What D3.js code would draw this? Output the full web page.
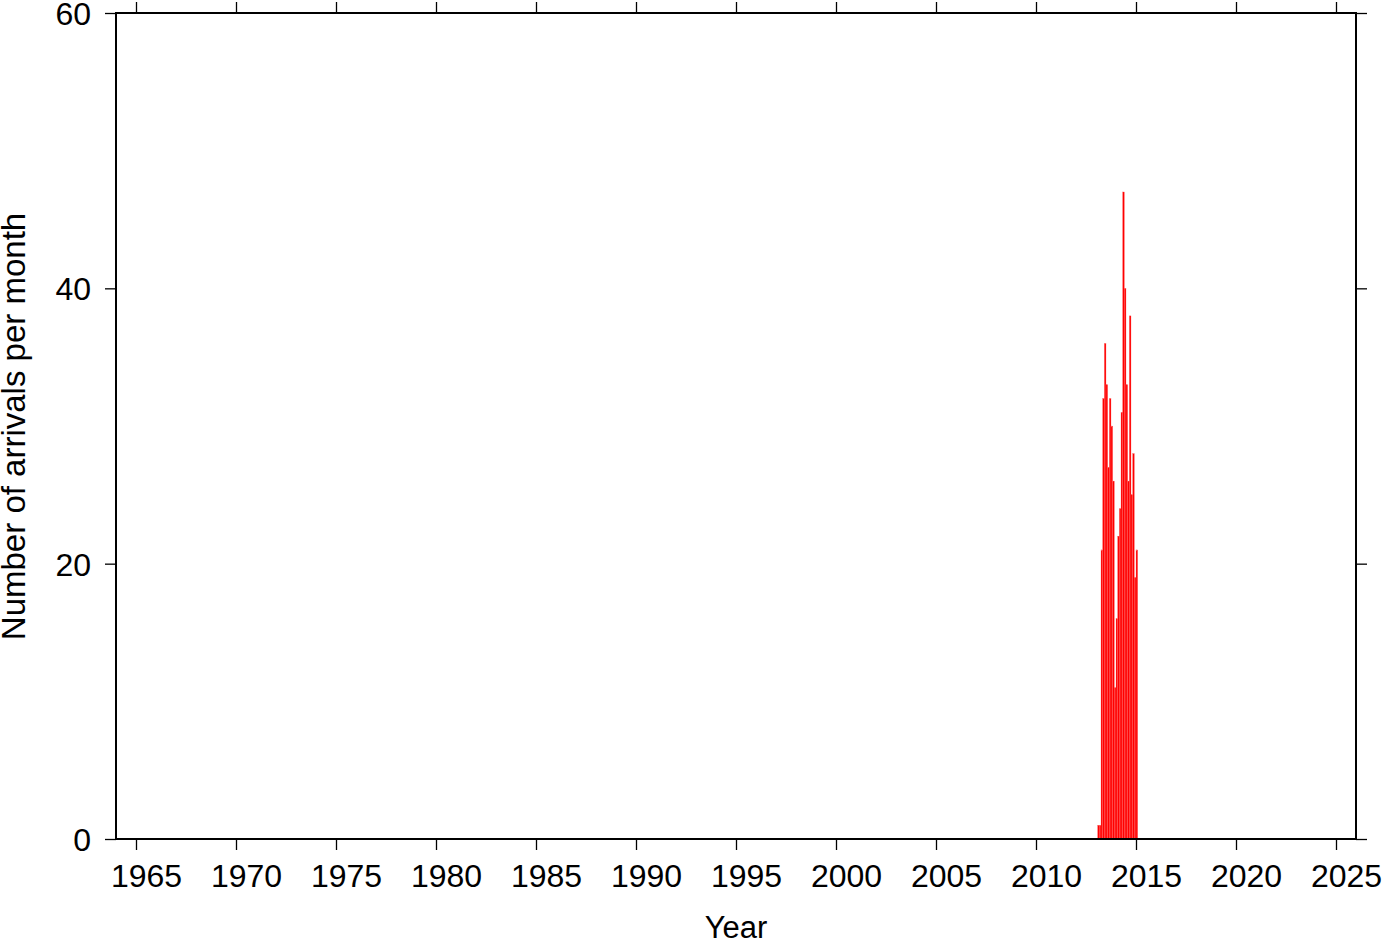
<!DOCTYPE html>
<html><head><meta charset="utf-8">
<script src="https://cdn.jsdelivr.net/npm/d3@7"></script>
<style>body{margin:0;background:#fff}svg{display:block}text{font-family:"Liberation Sans",Arial,sans-serif;fill:#000}</style>
</head><body>
<svg id="c" width="1382" height="942"></svg>
<script>
const startYear = 2013 + 1/12;
const monthlyCounts = [1,1,21,32,36,33,27,32,30,26,11,16,22,24,31,47,40,33,26,38,25,28,19,21];
const xTicks = [1965,1970,1975,1980,1985,1990,1995,2000,2005,2010,2015,2020,2025];
const yTicks = [0,20,40,60];

const svg = d3.select("#c");
const L=116,R=1356,T=13,B=839;
const x = d3.scaleLinear().domain([1964,2026]).range([L,R]);
const y = d3.scaleLinear().domain([0,60]).range([B,T]);

const bars = monthlyCounts.map((v,i)=>({t0:startYear+i/12,t1:startYear+(i+1)/12,v}));
svg.append("g").selectAll("rect").data(bars).join("rect")
  .attr("x",d=>x(d.t0)).attr("width",d=>x(d.t1)-x(d.t0))
  .attr("y",d=>y(d.v)).attr("height",d=>y(0)-y(d.v))
  .attr("fill","#ff0000").attr("stroke","#ff6666").attr("stroke-width",0.3);

const fs = "32px";
const gb = svg.append("g").attr("transform",`translate(0,${B})`)
  .call(d3.axisBottom(x).tickValues(xTicks).tickFormat(d3.format("d")).tickSize(11).tickPadding(8));
const gt = svg.append("g").attr("transform",`translate(0,${T})`)
  .call(d3.axisTop(x).tickValues(xTicks).tickFormat("").tickSize(11));
const gl = svg.append("g").attr("transform",`translate(${L},0)`)
  .call(d3.axisLeft(y).tickValues(yTicks).tickSize(11).tickPadding(8));
const gr = svg.append("g").attr("transform",`translate(${R},0)`)
  .call(d3.axisRight(y).tickValues(yTicks).tickFormat("").tickSize(11));
[gb,gt,gl,gr].forEach(g=>{
  g.select(".domain").remove();
  g.selectAll(".tick line").attr("stroke","#000").attr("stroke-width",1.3);
  g.selectAll("text").style("font-size",fs).style("font-family","Liberation Sans, Arial, sans-serif").attr("fill","#000");
});
gb.selectAll("text").attr("x",10).attr("y",47.5).attr("dy","0");
gl.selectAll("text").attr("x",-25).attr("dy","0.36em");

svg.append("rect").attr("x",L).attr("y",T).attr("width",R-L).attr("height",B-T)
  .attr("fill","none").attr("stroke","#000").attr("stroke-width",2);

svg.append("text").attr("x",(L+R)/2).attr("y",938).attr("text-anchor","middle")
  .style("font-size","31px").text("Year");
svg.append("text").attr("transform",`translate(25,426.5) rotate(-90)`).attr("text-anchor","middle")
  .style("font-size","33px").text("Number of arrivals per month");
</script>
</body></html>
